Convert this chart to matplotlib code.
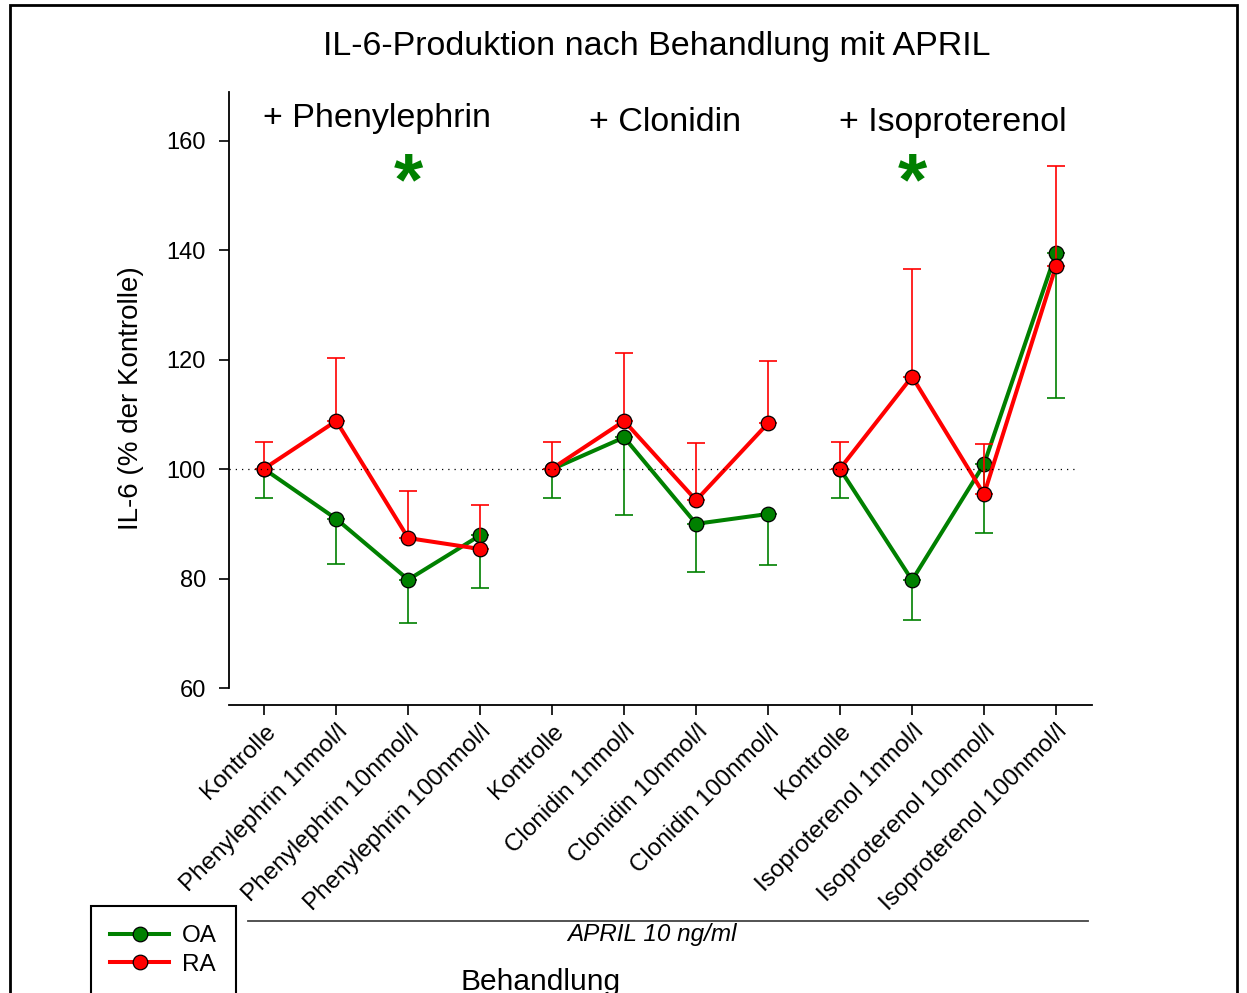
import matplotlib
matplotlib.use("Agg")
import matplotlib.pyplot as plt
from matplotlib.patches import Rectangle
from matplotlib.lines import Line2D
import numpy as np

plt.rcParams['font.family'] = ['Liberation Sans', 'DejaVu Sans']

# --- data ---
labels = [
    "Kontrolle", "Phenylephrin 1nmol/l", "Phenylephrin 10nmol/l", "Phenylephrin 100nmol/l",
    "Kontrolle", "Clonidin 1nmol/l", "Clonidin 10nmol/l", "Clonidin 100nmol/l",
    "Kontrolle", "Isoproterenol 1nmol/l", "Isoproterenol 10nmol/l", "Isoproterenol 100nmol/l",
]
groups = ["+ Phenylephrin", "+ Clonidin", "+ Isoproterenol"]
star_columns = [2, 9]   # columns marked as significant

oa_mean = [100.0, 90.9, 79.8, 87.9, 100.0, 105.8, 90.0, 91.8, 100.0, 79.7, 100.9, 139.5]
oa_err = [5.2, 8.2, 7.9, 9.6, 5.2, 14.2, 8.8, 9.3, 5.2, 7.3, 12.6, 26.5]
ra_mean = [100.1, 108.8, 87.4, 85.4, 100.1, 108.8, 94.3, 108.4, 100.1, 116.9, 95.4, 137.1]
ra_err = [4.9, 11.5, 8.6, 8.1, 4.9, 12.4, 10.4, 11.3, 4.9, 19.7, 9.1, 18.2]

series = [
    ("OA", oa_mean, oa_err, "#008000", "down"),
    ("RA", ra_mean, ra_err, "#ff0000", "up"),
]

fig = plt.figure(figsize=(12.47, 9.93), dpi=100)
ax = fig.add_axes([229 / 1247, 1 - 705 / 993, 863 / 1247, 613 / 993])

x = np.arange(len(labels))
n_per_group = 4

for k, (name, mean, err, color, side) in enumerate(series):
    mean = np.array(mean)
    err = np.array(err)
    if side == "down":
        yerr = [err, np.zeros_like(err)]
    else:
        yerr = [np.zeros_like(err), err]
    z = 3 + 2 * k
    ax.errorbar(x, mean, yerr=yerr, fmt='none', ecolor=color, elinewidth=1.2,
                capsize=6.5, capthick=1.2, zorder=z + 0.5)
    for g in range(len(groups)):
        sl = slice(g * n_per_group, (g + 1) * n_per_group)
        ax.plot(x[sl], mean[sl], '-', color=color, lw=2.9, zorder=z)
        ax.plot(x[sl], mean[sl], 'o', color=color, ms=10.5, mec='black',
                mew=0.9, zorder=z + 0.6)

# reference line at 100 %
ax.axhline(100, xmin=0, xmax=0.985, color='black', lw=0.9, ls=(0, (1, 4)), zorder=10)

# group titles and significance stars
for g, title in enumerate(groups):
    xc = g * n_per_group + 1.57
    ax.text(xc, 162.5 if g == 0 else 161.8, title, ha='center', va='baseline', fontsize=24.5)
for sx in star_columns:
    ax.text(sx, 148.3, "*", ha='center', va='baseline',
            fontsize=54, fontweight='bold', color='#008000')

ax.set_xlim(-0.49, 11.5)
ax.set_ylim(56.9, 168.9)
ax.set_yticks([60, 80, 100, 120, 140, 160])
ax.set_xticks(x)
ax.set_xticklabels(labels, rotation=45, ha='right', rotation_mode='anchor', fontsize=17.5)
ax.tick_params(axis='y', labelsize=17, length=7.5, width=1.2, direction='out', pad=9)
ax.tick_params(axis='x', length=7, width=1.2, direction='out', pad=4)
ax.spines['top'].set_visible(False)
ax.spines['right'].set_visible(False)
ax.spines['left'].set_bounds(60, 168.9)
ax.spines['left'].set_linewidth(1.3)
ax.spines['bottom'].set_linewidth(1.3)
ax.set_ylabel("IL-6 (% der Kontrolle)", fontsize=20, labelpad=16)

fig.text(657 / 1247, 1 - 55 / 993, "IL-6-Produktion nach Behandlung mit APRIL",
         ha='center', va='baseline', fontsize=24.5)

# treatment line under the tick labels
fig.add_artist(Line2D([248 / 1247, 1088 / 1247], [1 - 921 / 993, 1 - 921 / 993],
                      color='#444444', lw=1.3))
fig.text(652 / 1247, 1 - 935 / 993, "APRIL 10 ng/ml", ha='center', va='center',
         fontsize=17.5, style='italic')
fig.text(541 / 1247, 1 - 990 / 993, "Behandlung", ha='center', va='baseline', fontsize=21.5)

# legend
handles = [Line2D([], [], color=c, lw=2.9, marker='o', ms=10.5, mec='black', mew=0.9)
           for _, _, _, c, _ in series]
leg = fig.legend(handles, [s[0] for s in series], loc='upper left',
                 bbox_to_anchor=(91 / 1247, 1 - 906 / 993), fontsize=17.5,
                 handlelength=2.4, handletextpad=0.53, labelspacing=0.25,
                 borderpad=0.8, borderaxespad=0, fancybox=False, framealpha=1)
leg.get_frame().set_edgecolor('black')
leg.get_frame().set_linewidth(1.5)

# outer frame of the figure (cut off at the bottom)
fig.add_artist(Rectangle((10 / 1247, -0.2), 1227 / 1247, 1.2 - 5 / 993, fill=False,
                         edgecolor='black', lw=2, transform=fig.transFigure, clip_on=False))

fig.savefig("out.png", dpi=100)
